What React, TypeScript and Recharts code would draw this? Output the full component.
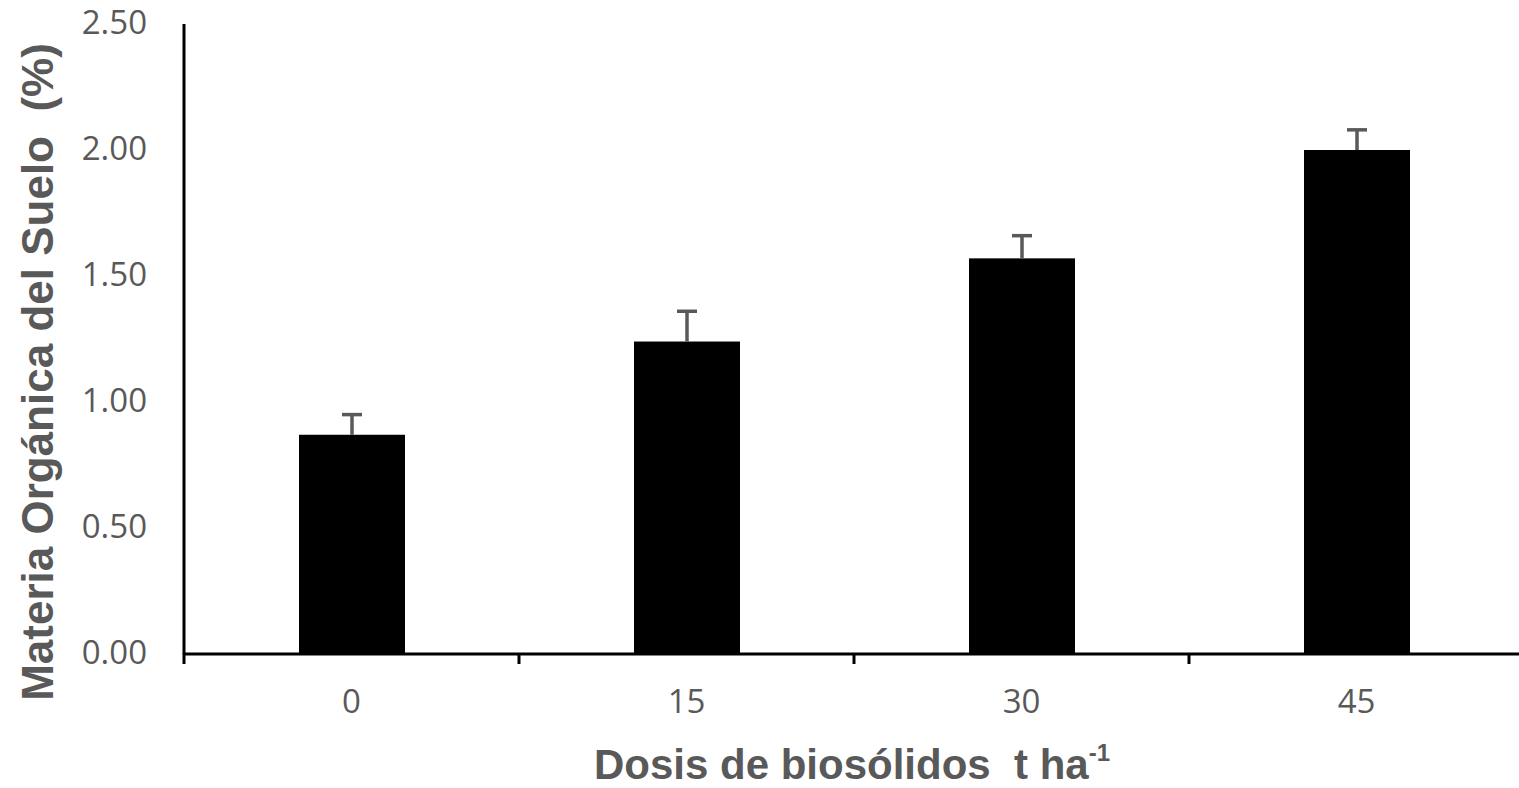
import React from "react";
import { BarChart, Bar, XAxis, YAxis } from "recharts";

const categories = ["0", "15", "30", "45"];
const meanValues = [0.87, 1.24, 1.57, 2.0];
const errorValues = [0.08, 0.12, 0.09, 0.08];
const yTicks = [0, 0.5, 1, 1.5, 2, 2.5];

const data = categories.map((c, i) => ({ dosis: c, mo: meanValues[i], err: errorValues[i] }));

const GREY = "#595959";
const TICK_FONT = "'Open Sans', 'Liberation Sans', sans-serif";
const TITLE_FONT = "'Liberation Sans', Arial, sans-serif";

const BarWithError = (props: any) => {
  const { x, y, width, height, payload, value } = props;
  const v = Array.isArray(value) ? value[1] - value[0] : payload.mo;
  const pxPerUnit = v ? height / v : 0;
  const errTop = y - payload.err * pxPerUnit;
  const cx = x + width / 2;
  return (
    <g>
      <rect x={x} y={y} width={width} height={height} fill="#000" />
      <line x1={cx} y1={y} x2={cx} y2={errTop} stroke={GREY} strokeWidth={3.5} />
      <line x1={cx - 10} y1={errTop} x2={cx + 10} y2={errTop} stroke={GREY} strokeWidth={3.5} />
    </g>
  );
};

const XTick = (props: any) => {
  const { x, y, payload } = props;
  const off = payload && typeof payload.offset === "number" ? payload.offset : 0;
  const bx = x - off;
  return (
    <g>
      <line x1={bx} y1={y - 1} x2={bx} y2={y + 10} stroke="#000" strokeWidth={3} />
      <text x={x} y={y + 50} textAnchor="middle" dominantBaseline="middle" fill={GREY} fontSize={33} fontFamily={TICK_FONT}>
        {payload.value}
      </text>
    </g>
  );
};

const YTick = (props: any) => {
  const { x, y, payload } = props;
  return (
    <text x={x} y={y + 1} textAnchor="end" dominantBaseline="middle" fill={GREY} fontSize={33} fontFamily={TICK_FONT}>
      {Number(payload.value).toFixed(2)}
    </text>
  );
};

const YLabel = (props: any) => {
  const { viewBox } = props;
  const lx = viewBox.x + 53;
  const ly = 372;
  return (
    <text
      x={lx}
      y={ly}
      transform={`rotate(-90, ${lx}, ${ly})`}
      textAnchor="middle"
      fill={GREY}
      fontSize={44}
      fontWeight="bold"
      fontFamily={TITLE_FONT}
      style={{ whiteSpace: "pre" }}
    >
      {"Materia Orgánica del Suelo  (%)"}
    </text>
  );
};

const XLabel = (props: any) => {
  const { viewBox } = props;
  const lx = 852;
  const ly = viewBox.y + 125;
  return (
    <text x={lx} y={ly} textAnchor="middle" fill={GREY} fontSize={42} fontWeight="bold" fontFamily={TITLE_FONT} style={{ whiteSpace: "pre" }}>
      <tspan>{"Dosis de biosólidos  t ha"}</tspan>
      <tspan fontSize={24} dy={-18}>{"-1"}</tspan>
    </text>
  );
};

export default function App() {
  return (
    <div style={{ position: "fixed", left: 0, top: 0, width: 1519, height: 788, overflow: "hidden", background: "#fff" }}>
      <BarChart width={1530} height={788} data={data} margin={{ top: 24, right: 6, bottom: 0, left: 0 }}>
        <XAxis
          dataKey="dosis"
          height={134}
          axisLine={{ stroke: "#000", strokeWidth: 3 }}
          tickLine={false}
          tickSize={0}
          tickMargin={0}
          tick={<XTick />}
          interval={0}
          label={<XLabel />}
        />
        <YAxis
          width={184}
          domain={[0, 2.5]}
          ticks={yTicks}
          axisLine={{ stroke: "#000", strokeWidth: 3 }}
          tickLine={false}
          tickSize={0}
          tickMargin={37}
          tick={<YTick />}
          interval={0}
          label={<YLabel />}
        />
        <Bar dataKey="mo" barSize={106} fill="#000" shape={<BarWithError />} isAnimationActive={false} />
      </BarChart>
    </div>
  );
}
